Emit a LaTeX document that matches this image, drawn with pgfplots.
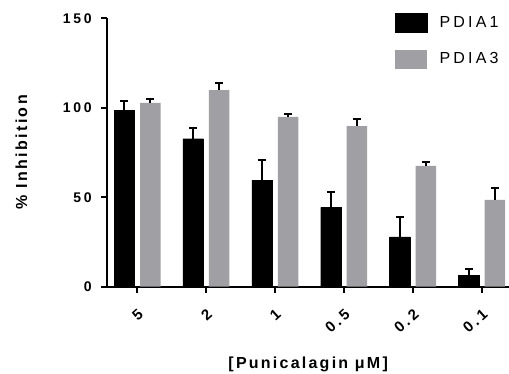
\documentclass[border=0pt]{standalone}
\usepackage{pgfplots}
\pgfplotsset{compat=1.18}
\usepackage{fontspec}
\setmainfont{Liberation Sans}
\newfontfamily\spylab[LetterSpace=15]{Liberation Sans}
\newfontfamily\spxlab[LetterSpace=14]{Liberation Sans}
\newfontfamily\sptick[LetterSpace=20]{Liberation Sans}
\newfontfamily\spxtick[LetterSpace=20]{Liberation Sans}
\newfontfamily\splegend[LetterSpace=20]{Liberation Sans}
\definecolor{pgray}{RGB}{160,160,164}
\begin{document}
\begin{tikzpicture}
\useasboundingbox (-107.3pt,-87.3pt) rectangle (401.7pt,286.7pt);
\begin{axis}[
  scale only axis,
  width=401.7pt, height=268.4pt,
  ymin=0, ymax=150,
  xmin=-0.435, xmax=5.395,
  ybar=5.5pt, bar width=20.5pt,
  axis x line*=bottom, axis y line*=left,
  axis line style={line width=2pt},
  tick style={line width=2pt, black},
  major tick length=6pt,
  tick align=outside,
  xtick={0,1,2,3,4,5},
  xticklabels={5,2,1,0.5,0.2,0.1},
  ytick={0,50,100,150},
  yticklabels={0,50,100,150},
  xticklabel style={font=\spxtick\bfseries\fontsize{15}{17}\selectfont, xshift=6pt, yshift=-17pt, rotate=42, anchor=east},
  yticklabel style={font=\sptick\bfseries\fontsize{14}{16}\selectfont, anchor=east, xshift=-6pt},
  xlabel={[Punicalagin μM]},
  ylabel={\% Inhibition},
  xlabel style={font=\spxlab\bfseries\fontsize{16}{18}\selectfont, at={(axis description cs:0.5,-0.288)}, anchor=center},
  ylabel style={font=\spylab\bfseries\fontsize{16}{18}\selectfont, at={(axis description cs:-0.214,0.5)}, anchor=center},
  legend style={draw=none, fill=none, at={(axis description cs:0.716,1.02)}, anchor=north west, inner sep=0pt, row sep=17pt, font=\splegend\fontsize{16}{18}\selectfont, cells={anchor=west}},
  legend image code/.code={\fill[#1] (0pt,-9.5pt) rectangle (32pt,9.5pt);},
  error bars/y dir=plus, error bars/y explicit,
  error bars/error bar style={line width=2pt, black},
  error bars/error mark options={rotate=90, mark size=4pt, line width=2pt, black},
]
\addplot[fill=black, draw=black] coordinates {
  (0,98.4) +- (0,5.6)
  (1,82.7) +- (0,6.2)
  (2,59.5) +- (0,11.3)
  (3,44.4) +- (0,8.4)
  (4,27.9) +- (0,10.9)
  (5,6.5) +- (0,3.6)
};
\addlegendentry{\hspace{10pt}PDIA1}
\addplot[fill=pgray, draw=none] coordinates {
  (0,102.7) +- (0,2.4)
  (1,109.8) +- (0,4.2)
  (2,94.9) +- (0,1.7)
  (3,89.8) +- (0,3.7)
  (4,67.5) +- (0,2.4)
  (5,48.5) +- (0,6.8)
};
\addlegendentry{\hspace{10pt}PDIA3}
\end{axis}
\end{tikzpicture}
\end{document}
